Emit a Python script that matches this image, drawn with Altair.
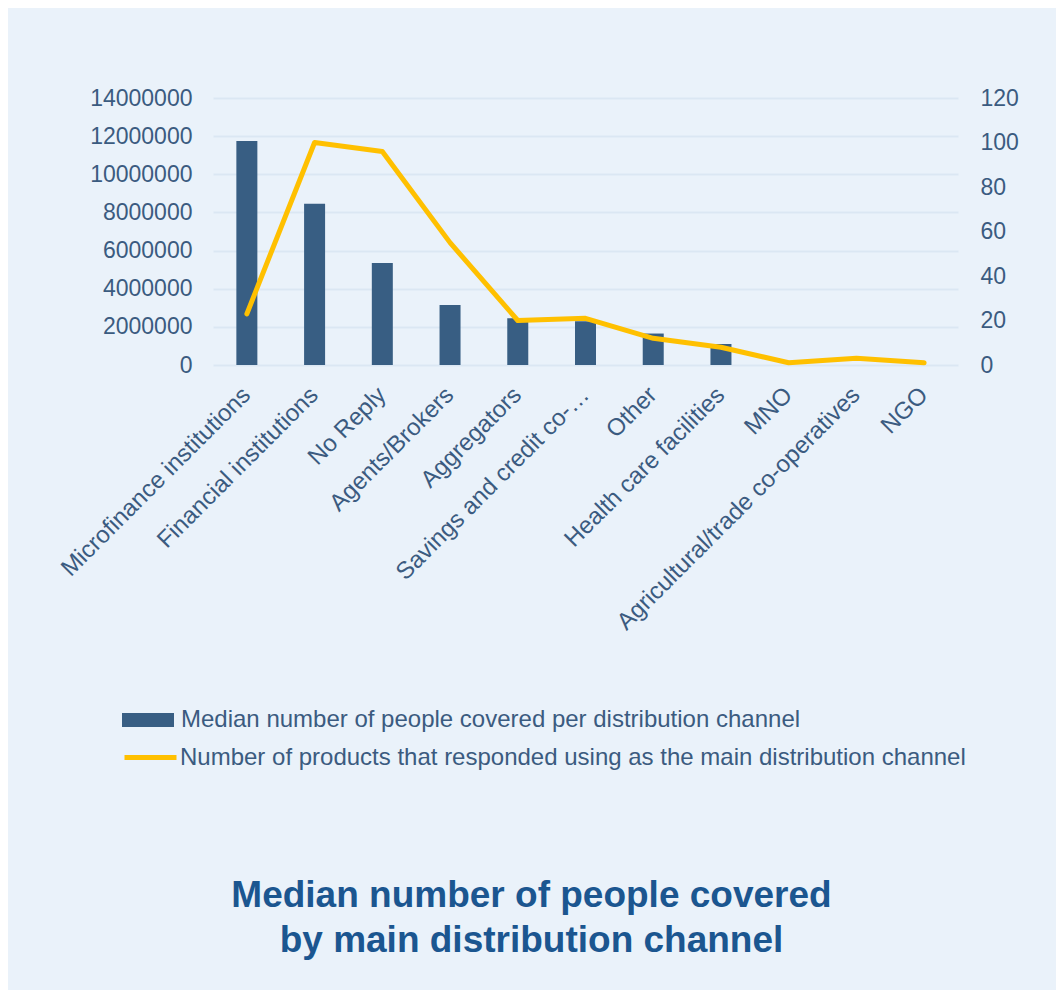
import altair as alt
import pandas as pd

categories = [
    "Microfinance institutions", "Financial institutions", "No Reply",
    "Agents/Brokers", "Aggregators", "Savings and credit co-\u2026", "Other",
    "Health care facilities", "MNO", "Agricultural/trade co-operatives", "NGO",
]
people_covered = [11750000, 8450000, 5350000, 3150000, 2450000, 2300000,
                  1650000, 1100000, 0, 0, 0]
products = [23, 100, 96, 55, 20, 21, 12, 8, 1, 3, 1]

series_bar = "Median number of people covered per distribution channel"
series_line = "Number of products that responded using as the main distribution channel"

df = pd.DataFrame({
    "category": categories,
    "people": people_covered,
    "products": products,
    "s_bar": series_bar,
    "s_line": series_line,
})

BG = "#eaf2fa"
TEXT = "#3b5b80"
BAR = "#385e83"
LINE = "#ffc000"
GRID = "#dbe7f3"
FONT = "Liberation Sans"

x_enc = alt.X(
    "category:N", sort=categories, title=None,
    scale=alt.Scale(paddingInner=0, paddingOuter=0),
    axis=alt.Axis(labelAngle=315, labelFontSize=24, labelColor=TEXT, labelFont=FONT,
                  labelAlign="right", labelBaseline="middle",
                  domain=False, ticks=False, tickSize=0, labelPadding=26,
                  labelLimit=400, grid=False),
)

bars = alt.Chart(df).mark_bar(size=21).encode(
    x=x_enc,
    y=alt.Y("people:Q", title=None,
            scale=alt.Scale(domain=[0, 14000000], nice=False),
            axis=alt.Axis(values=[0, 2000000, 4000000, 6000000, 8000000, 10000000, 12000000, 14000000],
                          format="d", labelFontSize=23, labelColor=TEXT, labelFont=FONT,
                          domain=False, ticks=False, tickSize=0, labelPadding=21,
                          grid=True, gridColor=GRID, gridWidth=2)),
    fill=alt.Fill("s_bar:N", scale=alt.Scale(domain=[series_bar], range=[BAR]),
                  legend=alt.Legend(title=None, orient="none", legendX=-91, legendY=596,
                                    symbolType="M-1,-0.27H1V0.27H-1Z", symbolSize=2704,
                                    symbolStrokeWidth=0, labelFontSize=24, labelColor=TEXT,
                                    labelFont=FONT, labelOffset=7, padding=0, labelLimit=900)),
)

line = alt.Chart(df).mark_line(strokeWidth=5, strokeJoin="round", strokeCap="round").encode(
    x=x_enc,
    y=alt.Y("products:Q", title=None,
            scale=alt.Scale(domain=[0, 120], nice=False),
            axis=alt.Axis(values=[0, 20, 40, 60, 80, 100, 120], orient="right",
                          labelFontSize=23, labelColor=TEXT, labelFont=FONT,
                          domain=False, ticks=False, tickSize=0, labelPadding=22,
                          grid=False)),
    stroke=alt.Stroke("s_line:N", scale=alt.Scale(domain=[series_line], range=[LINE]),
                      legend=alt.Legend(title=None, orient="none", legendX=-91, legendY=631,
                                        symbolType="stroke", symbolSize=2704,
                                        symbolStrokeWidth=5, labelFontSize=24, labelColor=TEXT,
                                        labelFont=FONT, labelOffset=1, padding=0, labelLimit=900)),
)

chart = alt.layer(bars, line).resolve_scale(
    y="independent", fill="independent", stroke="independent"
).properties(
    width=745,
    height=267,
    autosize=alt.AutoSizeParams(type="none"),
    padding={"left": 205, "top": 90, "right": 98, "bottom": 625},
    background=BG,
    title=alt.TitleParams(
        text=["Median number of people covered", "by main distribution channel"],
        orient="bottom", anchor="middle", fontSize=37, fontWeight="bold",
        color="#1b5690", font=FONT, lineHeight=45, offset=20, dx=-54, dy=88,
    ),
).configure_view(stroke=None)

chart.save("out.html", embed_options={"renderer": "svg", "actions": False})
